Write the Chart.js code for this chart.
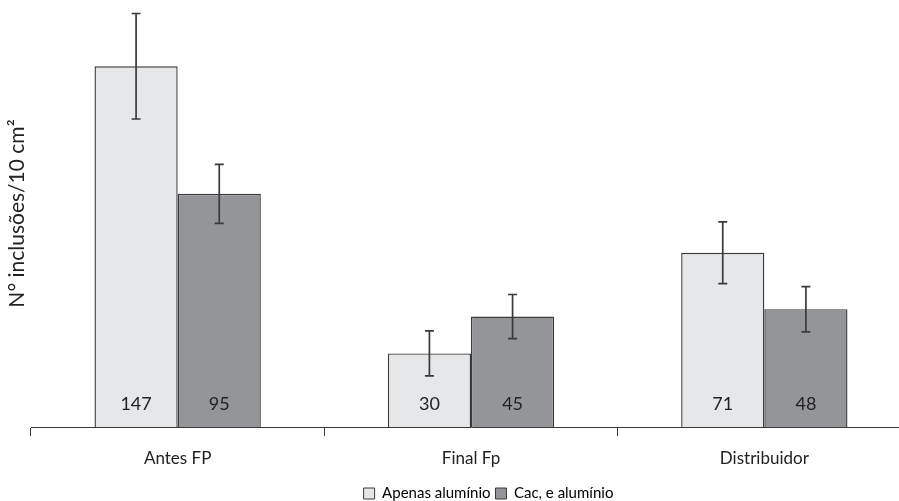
<!DOCTYPE html>
<html>
<head>
<meta charset="utf-8">
<script src="https://cdn.jsdelivr.net/npm/chart.js@4.4.1/dist/chart.umd.min.js"></script>
<style>
  html, body { margin: 0; padding: 0; background: #fff; overflow: hidden; }
  #wrap { width: 911px; height: 511px; }
</style>
</head>
<body>
<div id="wrap"><canvas id="chart"></canvas></div>
<script>
const categories = ["Antes FP", "Final Fp", "Distribuidor"];
const seriesNames = ["Apenas alumínio", "Cac, e alumínio"];
const apenasValues = [147, 30, 71];
const cacValues = [95, 45, 48];
const apenasErrors = [21.5, 9.2, 12.6];
const cacErrors = [12, 9, 9.2];

const edgeColor = "#3a3a3a";
const fontFamily = "Lato, 'Open Sans', sans-serif";

// error bars + value labels drawn from the chart's own scales
const extrasPlugin = {
  id: "extras",
  afterLayout(chart) {
    // the legend sits a bit right of centre in the original
    chart.legend.left += 33;
    chart.legend.right += 33;
  },
  afterDatasetsDraw(chart) {
    const ctx = chart.ctx;
    const yScale = chart.scales.y;
    const errors = [apenasErrors, cacErrors];
    chart.data.datasets.forEach((ds, di) => {
      const meta = chart.getDatasetMeta(di);
      meta.data.forEach((bar, i) => {
        const v = ds.data[i];
        const e = errors[di][i];
        const yTop = yScale.getPixelForValue(v + e);
        const yBot = yScale.getPixelForValue(v - e);
        ctx.save();
        ctx.strokeStyle = edgeColor;
        ctx.lineWidth = 1.7;
        ctx.beginPath();
        ctx.moveTo(bar.x, yTop);
        ctx.lineTo(bar.x, yBot);
        ctx.moveTo(bar.x - 4.5, yTop);
        ctx.lineTo(bar.x + 4.5, yTop);
        ctx.moveTo(bar.x - 4.5, yBot);
        ctx.lineTo(bar.x + 4.5, yBot);
        ctx.stroke();
        // value label near the base of the bar
        ctx.fillStyle = "#222";
        ctx.font = "18px " + fontFamily;
        ctx.textAlign = "center";
        ctx.textBaseline = "middle";
        ctx.fillText(String(v), bar.x, yScale.getPixelForValue(0) - 23);
        ctx.restore();
      });
    });
  }
};

new Chart(document.getElementById("chart"), {
  type: "bar",
  data: {
    labels: categories,
    datasets: [
      {
        label: seriesNames[0],
        data: apenasValues,
        backgroundColor: "#e6e7e9",
        borderColor: edgeColor,
        borderWidth: 1.4,
        borderSkipped: "bottom",
      },
      {
        label: seriesNames[1],
        data: cacValues,
        backgroundColor: "#939598",
        borderColor: edgeColor,
        borderWidth: 1.4,
        borderSkipped: "bottom",
      },
    ],
  },
  options: {
    responsive: true,
    maintainAspectRatio: false,
    animation: false,
    layout: { padding: { left: 0, right: 0, top: 0, bottom: 0 } },
    datasets: { bar: { barPercentage: 1, categoryPercentage: 0.567 } },
    scales: {
      x: {
        grid: {
          offset: true,
          drawOnChartArea: false,
          drawTicks: true,
          tickLength: 9,
          color: edgeColor,
        },
        border: { display: true, color: edgeColor, width: 1 },
        ticks: {
          color: "#222",
          font: { family: fontFamily, size: 17, lineHeight: 1 },
          padding: 14,
        },
      },
      y: {
        min: 0,
        max: 174,
        ticks: { display: false, padding: 0 },
        grid: { display: false, drawTicks: false },
        border: { display: false },
        title: {
          display: true,
          text: "N° inclusões/10 cm²",
          color: "#222",
          font: { family: fontFamily, size: 21, lineHeight: 1 },
          padding: { top: 7, bottom: 3 },
        },
      },
    },
    plugins: {
      legend: {
        position: "bottom",
        labels: {
          boxWidth: 11,
          boxHeight: 11,
          color: "#222",
          font: { family: fontFamily, size: 15 },
          padding: 5,
          generateLabels(chart) {
            return chart.data.datasets.map((ds, i) => ({
              text: ds.label,
              fillStyle: ds.backgroundColor,
              strokeStyle: edgeColor,
              lineWidth: 1,
              datasetIndex: i,
            }));
          },
        },
      },
      tooltip: { enabled: false },
    },
  },
  plugins: [extrasPlugin],
});
</script>
</body>
</html>
